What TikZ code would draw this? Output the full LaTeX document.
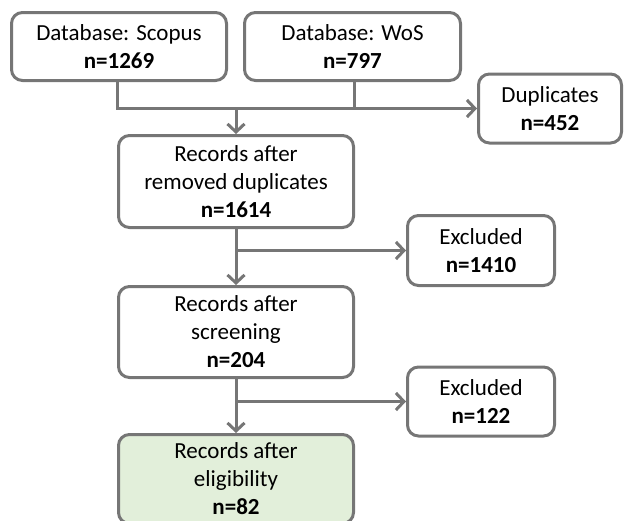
\documentclass[tikz,border=0pt]{standalone}
\usepackage{fontspec}
\setmainfont{Carlito}
\usepackage{tikz}
\usetikzlibrary{positioning,arrows,arrows.meta}
\definecolor{linegray}{RGB}{118,118,118}
\definecolor{keptgreen}{RGB}{226,239,218}

\begin{document}
\begin{tikzpicture}
  [
      x=1pt, y=-1pt,
      >={Straight Barb[length=8pt, width=17pt]},
      my box/.style={rectangle, rounded corners=11pt, draw=linegray, line width=3pt, fill=white,
        align=center, inner sep=0pt, minimum width=#1, font=\fontsize{23}{28}\selectfont},
      kept box/.style={my box=235pt, fill=keptgreen},
      link/.style={draw=linegray, line width=3pt}
    ]
    \useasboundingbox (0,0) rectangle (624,520);
    \node (scopus) [my box=215pt, minimum height=68pt] at (119,46.5) {Database: Scopus\\\textbf{n=1269}};
    \node (wos) [my box=216pt, minimum height=68pt] at (352.5,46.5) {Database: WoS\\\textbf{n=797}};
    \node (dup) [my box=143pt, minimum height=69pt] at (550,108.5) {Duplicates\\\textbf{n=452}};
    \node (rem) [my box=235pt, minimum height=92pt] at (236,181.5) {Records after\\removed duplicates\\\textbf{n=1614}};
    \node (scr) [below=56pt of rem, my box=235pt, minimum height=91pt] {Records after\\screening\\\textbf{n=204}};
    \node (elig) [below=54pt of scr, kept box, minimum height=89pt] {Records after\\eligibility\\\textbf{n=82}};
    \node (exc1) [my box=147pt, minimum height=70pt] at (481,250.5) {Excluded\\\textbf{n=1410}};
    \node (exc2) [my box=147pt, minimum height=69pt] at (481,401.5) {Excluded\\\textbf{n=122}};
    \draw [link, ->] (scopus.south -| 117,0) |- (dup);
    \draw [link] (wos.south -| 354,0) -- (354,0 |- dup.west);
    \draw [link, ->] (rem.north |- dup.west) -- (rem);
    \foreach \i/\j in {rem/scr,scr/elig}
      \draw [link, ->] (\i) -- (\j);
    \foreach \i/\j in {rem/exc1,scr/exc2}
      \draw [link, ->] (\i.south |- \j.west) -- (\j);
  \end{tikzpicture}
\end{document}
